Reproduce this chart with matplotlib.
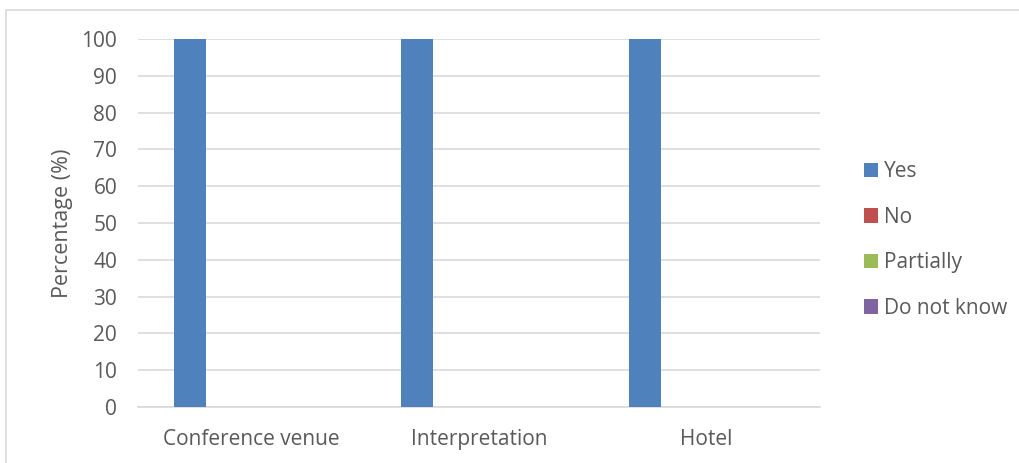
import matplotlib.pyplot as plt
from matplotlib.patches import Rectangle
import numpy as np

categories = ['Conference venue', 'Interpretation', 'Hotel']
series = ['Yes', 'No', 'Partially', 'Do not know']
values = {
    'Yes': [100, 100, 100],
    'No': [0, 0, 0],
    'Partially': [0, 0, 0],
    'Do not know': [0, 0, 0],
}
colors = ['#4f81bd', '#c0504d', '#9bbb59', '#8064a2']
yticks = [0, 10, 20, 30, 40, 50, 60, 70, 80, 90, 100]

plt.rcParams['font.family'] = ['Open Sans', 'DejaVu Sans']
txt = '#595959'

W, H = 1019, 463
fig = plt.figure(figsize=(W / 100, H / 100), dpi=100)
# plot area in pixels
x0, x1, ytop, ybot = 138, 820, 39, 407
ax = fig.add_axes([x0 / W, 1 - ybot / H, (x1 - x0) / W, (ybot - ytop) / H])

x = np.arange(len(categories))
bw = 0.141
step = 0.181
for i, s in enumerate(series):
    ax.bar(x + (i - 1.5) * step, values[s], width=bw, color=colors[i],
           label=s, zorder=3)

ax.set_xlim(-0.5, len(categories) - 0.5)
ax.set_ylim(0, 100)
ax.set_yticks(yticks)
ax.set_xticks(x)
ax.set_xticklabels(categories, fontsize=15, color=txt)
ax.tick_params(axis='y', labelsize=15, colors=txt, length=0, pad=15)
ax.tick_params(axis='x', length=0, pad=16)
ax.yaxis.grid(True, color='#d9d9d9', linewidth=1.2, zorder=0)
for sp in ['top', 'right', 'left']:
    ax.spines[sp].set_visible(False)
ax.spines['bottom'].set_color('#d9d9d9')
ax.spines['bottom'].set_linewidth(1.2)
ax.set_ylabel('Percentage (%)', fontsize=15.5, color=txt, labelpad=6)

ax.legend(loc='center left', bbox_to_anchor=(845 / W, 1 - 240 / H),
          bbox_transform=fig.transFigure, frameon=False, fontsize=15,
          labelcolor=txt, handlelength=0.7, handleheight=0.7,
          handletextpad=0.25, labelspacing=1.17)

# outer chart border (only top and left visible in the crop)
fig.patches.append(Rectangle((5.5 / W, -0.1), 1.2, 1 - 9.5 / H + 0.1,
                             transform=fig.transFigure, fill=False,
                             edgecolor='#d9d9d9', linewidth=1.2))

fig.savefig('out.png', dpi=100)
